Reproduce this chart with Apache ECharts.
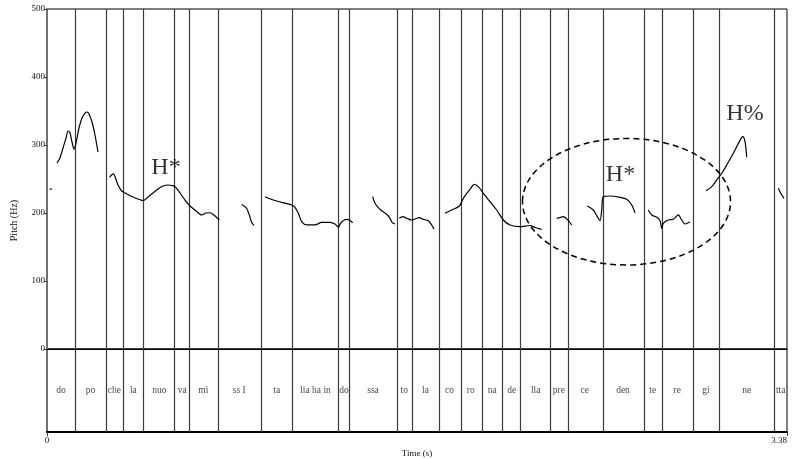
<!DOCTYPE html>
<html><head><meta charset="utf-8">
<script src="https://cdn.jsdelivr.net/npm/echarts@6/dist/echarts.min.js"></script>
<style>html,body{margin:0;padding:0;background:#fff}#c{width:793px;height:459px}</style>
</head><body><div id="c"></div>
<script>
// ---- data ----
const timeMax = 3.38;
const pitchTicks = [0, 100, 200, 300, 400, 500];
const boundaries = [0.128, 0.2695, 0.3458, 0.443, 0.5847, 0.6518, 0.7765, 0.9788, 1.1204, 1.3324, 1.3808, 1.5973, 1.6658, 1.7919, 1.8851, 1.9856, 2.0815, 2.1637, 2.3007, 2.3752, 2.5364, 2.7255, 2.8077, 2.9493, 3.0708, 3.3220];
const syllables = ['do','po','che','la','nuo','va','mi','ss I','ta','lia ha in','do','ssa','to','la','co','ro','na','de','lla','pre','ce','den','te','re','gi','ne','tta'];

const seg1 = [[0.012,235],[0.022,235]];
const seg2 = [[0.0457,273.5],[0.0594,281],[0.0731,295.6],[0.0868,310],[0.0959,320.6],[0.105,317.6],[0.1142,304.4],[0.1233,294],[0.1325,303],[0.1462,325],[0.1599,339.7],[0.1736,347],[0.1827,348.5],[0.1918,345.6],[0.2055,333.8],[0.2192,314.7],[0.2329,289.7]];
const seg3 = [[0.2864,252.5],[0.2946,255.9],[0.3028,257.4],[0.3129,251.5],[0.3243,241.2],[0.3412,232.4],[0.3654,227.9],[0.3928,223.5],[0.4157,220.6],[0.4399,218.1],[0.4613,223.5],[0.4842,229.4],[0.5070,235.3],[0.5299,239.7],[0.5541,241.2],[0.5710,240.4],[0.5847,238.7],[0.6075,229.4],[0.6304,219.1],[0.6532,210.3],[0.6760,204.4],[0.7066,197.1],[0.7263,200],[0.7446,200.4],[0.7628,197.1],[0.7870,189.7]];
const seg4 = [[0.8893,212.5],[0.8998,210.3],[0.9122,206.6],[0.9241,197.1],[0.9350,186],[0.9455,181.9]];
const seg5 = [[0.9958,224],[1.0337,219.1],[1.0720,215.7],[1.1177,211.8],[1.1328,208.4],[1.1479,199.6],[1.1634,187.2],[1.1862,182.4],[1.2242,182.4],[1.2547,186.3],[1.2926,186.3],[1.3155,183.8],[1.3306,179],[1.3429,185.7],[1.3657,190.7],[1.3808,189.7],[1.3963,185.7]];
const seg6 = [[1.4877,224],[1.4982,214.3],[1.5210,205.4],[1.5516,198.1],[1.5667,192.2],[1.5772,185.7],[1.5896,183.8]];
const seg7 = [[1.6092,192.2],[1.6247,194.6],[1.6430,192.2],[1.6658,189.7],[1.6809,191.2],[1.7006,193.1],[1.7188,190.7],[1.7417,188.7],[1.7572,182.4],[1.7677,176]];
const seg8 = [[1.8179,199.6],[1.8485,204.4],[1.8833,210.3],[1.9015,221.6],[1.9321,234.9],[1.9518,242.2],[1.9700,238.7],[1.9929,229],[2.0235,216.6],[2.0541,204.4],[2.0843,189.7],[2.1149,182.4],[2.1605,179.9],[2.2062,181.6],[2.2290,178.7],[2.2596,176]];
const seg9 = [[2.3281,192.2],[2.3432,193.4],[2.3583,194.6],[2.3811,188.7],[2.3966,182.4]];
const seg10 = [[2.4679,210.3],[2.4953,204.4],[2.5136,194.6],[2.5259,188.7],[2.5337,204.4],[2.5410,224],[2.5716,225],[2.6173,223.1],[2.6479,220.1],[2.6707,211.8],[2.6858,200.4]];
const seg11 = [[2.7465,204.4],[2.7620,197.1],[2.7849,193.7],[2.8000,188.7],[2.8077,177.5],[2.8150,184.9],[2.8379,189.7],[2.8607,190.7],[2.8836,197.1],[2.8991,189.7],[2.9142,183.8],[2.9370,187.2]];
const seg12 = [[3.0101,232.8],[3.0361,238.7],[3.0589,248.5],[3.0818,258.4],[3.1046,270.6],[3.1348,287.8],[3.1622,304.9],[3.1777,312.2],[3.1882,304.9],[3.1960,281.9]];
const seg13 = [[3.3403,236.3],[3.3513,229],[3.3663,221.6]];
const contours = [seg1, seg2, seg3, seg4, seg5, seg6, seg7, seg8, seg9, seg10, seg11, seg12, seg13];

const annoText = ['H*', 'H*', 'H%'];
const annoTime = [0.5436, 2.6196, 3.1882];
const annoPitch = [266, 256, 345.6];
const ellipseCenter = [2.647, 216.6];
const ellipseHalf = [0.475, 93];

// ---- chart ----
const serif = 'Liberation Serif';
const chart = echarts.init(document.getElementById('c'), null, {renderer: 'canvas'});
const edges = [0].concat(boundaries, [timeMax]);
const tierData = syllables.map((s, i) => ({name: s, value: [(edges[i] + edges[i + 1]) / 2, 0.5]}));
const vlines = boundaries.map(b => ({xAxis: b}));
const mlStyle = {silent: true, symbol: 'none', animation: false, label: {show: false},
  lineStyle: {color: '#3a3a3a', width: 1.2, type: 'solid'}, emphasis: {disabled: true}, data: vlines};

const contourSeries = contours.map(seg => ({
  type: 'line', xAxisIndex: 0, yAxisIndex: 0, data: seg, showSymbol: false, smooth: 0.3,
  lineStyle: {color: '#000', width: 1.2}, animation: false, silent: true, z: 5
}));

chart.setOption({
  animation: false,
  grid: [
    {left: 47, right: 6, top: 9, height: 340, show: true, borderColor: '#000', borderWidth: 1},
    {left: 47, right: 6, top: 349, height: 84, show: true, borderColor: '#000', borderWidth: 1}
  ],
  xAxis: [
    {gridIndex: 0, type: 'value', min: 0, max: timeMax, axisLine: {show: true, lineStyle: {color: '#000', width: 1}},
     axisTick: {show: false}, axisLabel: {show: false}, splitLine: {show: false}},
    {gridIndex: 1, type: 'value', min: 0, max: timeMax, interval: timeMax,
     axisLine: {show: true, lineStyle: {color: '#000', width: 1.8}},
     axisTick: {show: true, length: 4, lineStyle: {color: '#333'}},
     axisLabel: {fontFamily: serif, fontSize: 9, color: '#111', margin: 4, alignMaxLabel: 'right',
       formatter: v => (v === 0 ? '0' : '3.38')},
     splitLine: {show: false},
     name: 'Time (s)', nameLocation: 'middle', nameGap: 17,
     nameTextStyle: {fontFamily: serif, fontSize: 9, color: '#111'}}
  ],
  yAxis: [
    {gridIndex: 0, type: 'value', min: pitchTicks[0], max: pitchTicks[pitchTicks.length - 1], interval: 100,
     axisLine: {show: true, lineStyle: {color: '#707070', width: 2}},
     axisTick: {show: true, length: 3, lineStyle: {color: '#333'}},
     axisLabel: {fontFamily: serif, fontSize: 9, color: '#111', margin: 2},
     splitLine: {show: false}},
    {gridIndex: 1, type: 'value', min: 0, max: 1,
     axisLine: {show: true, lineStyle: {color: '#707070', width: 2}},
     axisTick: {show: false}, axisLabel: {show: false}, splitLine: {show: false}}
  ],
  series: [
    {type: 'line', xAxisIndex: 0, yAxisIndex: 0, data: [], markLine: mlStyle},
    {type: 'line', xAxisIndex: 1, yAxisIndex: 1, data: [], markLine: mlStyle},
    {type: 'scatter', xAxisIndex: 1, yAxisIndex: 1, data: tierData, symbolSize: 0, silent: true,
     label: {show: true, position: 'inside', formatter: '{b}', fontFamily: serif, fontSize: 9.5, color: '#111'}},
    {type: 'scatter', xAxisIndex: 0, yAxisIndex: 0, symbolSize: 0, silent: true, z: 6,
     data: annoText.map((t, i) => ({name: t, value: [annoTime[i], annoPitch[i]]})),
     label: {show: true, position: 'inside', formatter: '{b}', fontFamily: serif, fontSize: 24, color: '#000'}}
  ].concat(contourSeries)
});

const c0 = chart.convertToPixel({gridIndex: 0}, ellipseCenter);
const cx1 = chart.convertToPixel({gridIndex: 0}, [ellipseCenter[0] + ellipseHalf[0], ellipseCenter[1] + ellipseHalf[1]]);
const top0 = chart.convertToPixel({gridIndex: 0}, [0, 500]);
const bot1 = chart.convertToPixel({gridIndex: 1}, [0, 0]);
chart.setOption({
  graphic: [
    {type: 'ellipse', shape: {cx: c0[0], cy: c0[1], rx: cx1[0] - c0[0], ry: c0[1] - cx1[1]},
     style: {fill: 'none', stroke: '#000', lineWidth: 1.5, lineDash: [6, 4]}, z: 10, silent: true},
    {type: 'text', x: 14, y: (top0[1] + bot1[1]) / 2, rotation: Math.PI / 2,
     style: {text: 'Pitch (Hz)', font: '10px "Liberation Serif"', fill: '#111', textAlign: 'center', textVerticalAlign: 'middle'}}
  ]
});
</script></body></html>
